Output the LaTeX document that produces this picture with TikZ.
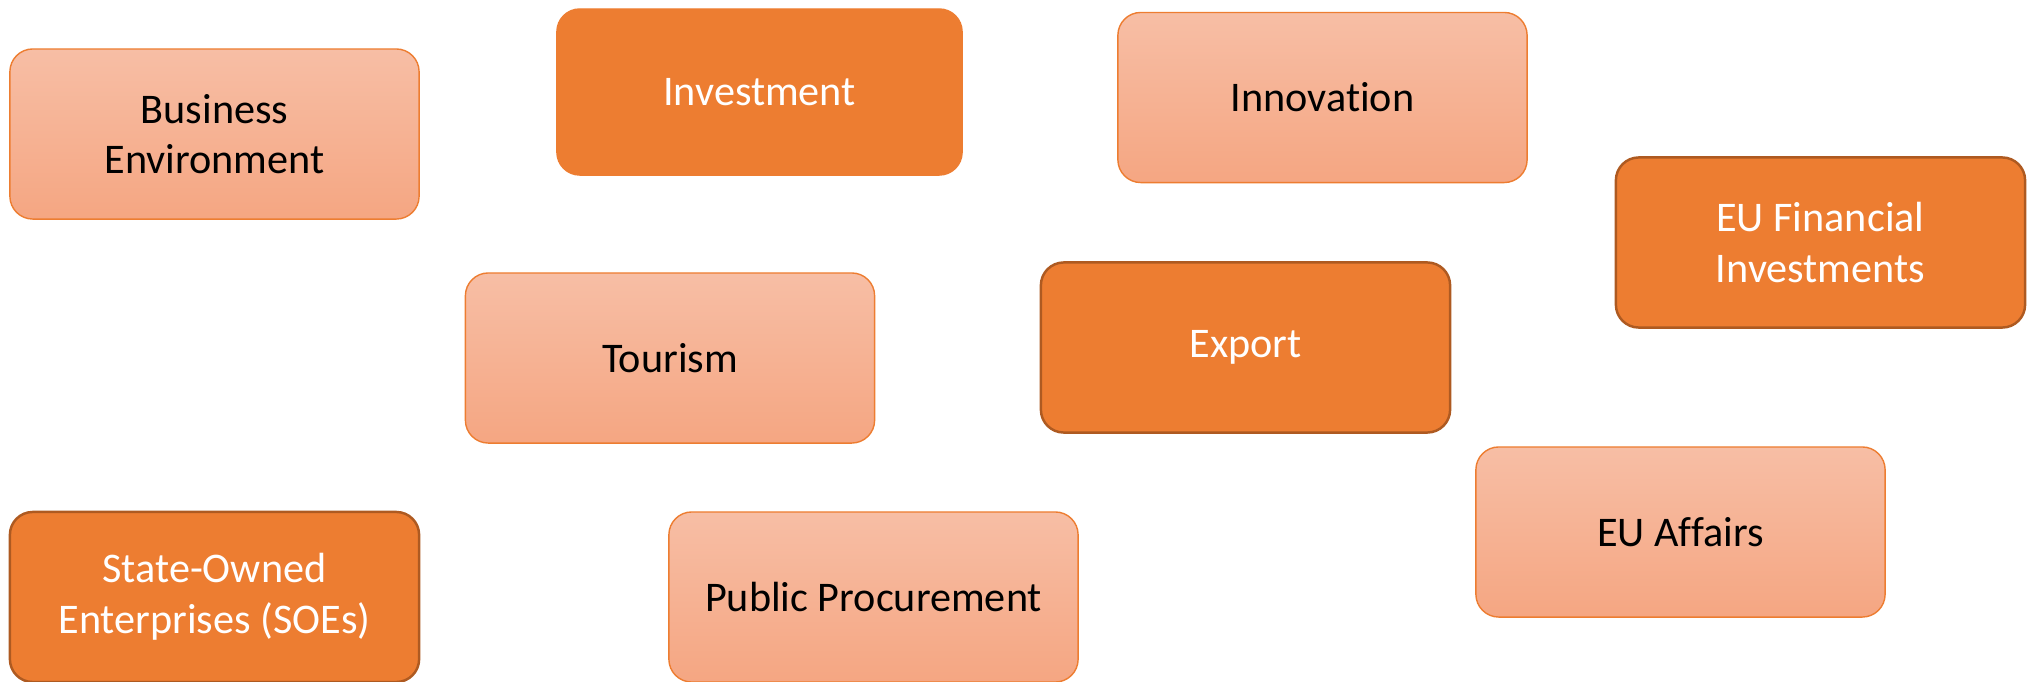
\documentclass[tikz,border=0pt]{standalone}
\usepackage{fontspec}
\setmainfont[Ligatures=NoCommon]{Carlito}
\usepackage{xcolor}
\usepackage{tikz}
\definecolor{accorange}{HTML}{ED7D31}
\definecolor{accdark}{HTML}{AE5A21}
\definecolor{paletop}{HTML}{F7BEA5}
\definecolor{palebot}{HTML}{F5A682}
\tikzset{
	areabox/.style={rounded corners=6.5pt,minimum width=4.09cm,minimum height=1.70cm,
		align=center,font=\fontsize{12}{14.4}\selectfont},
	palebox/.style={areabox,draw=accorange,line width=0.4pt,top color=paletop,bottom color=palebot,text=black},
	fullbox/.style={areabox,fill=accorange,draw=accorange,line width=0.4pt,text=white},
	edgebox/.style={fullbox,draw=accdark,line width=0.7pt}
}

\begin{document}
\begin{tikzpicture}[x=0.01cm,y=-0.01cm]
					\useasboundingbox (0,0) rectangle (2029,681);
					\node[palebox] (business) at (214.5,134) {Business\\Environment};
					\node[fullbox,minimum width=4.05cm,minimum height=1.66cm] (investment) at (759.5,92) {Investment};
					\node[palebox] (innovation) at (1322.5,97.5) {Innovation};
					\node[edgebox] (eufinancial) at (1820.5,242.5) {EU Financial\\Investments};
					\node[palebox] (tourism) at (670,358) {Tourism};
					\node[edgebox] (export) at (1245.5,347.5) {Export};
					\node[palebox] (euaffairs) at (1680.5,532) {EU Affairs};
					\node[edgebox] (soes) at (214.5,597) {State-Owned\\Enterprises (SOEs)};
					\node[palebox] (procurement) at (873.5,597) {Public Procurement};
				\end{tikzpicture}
\end{document}
